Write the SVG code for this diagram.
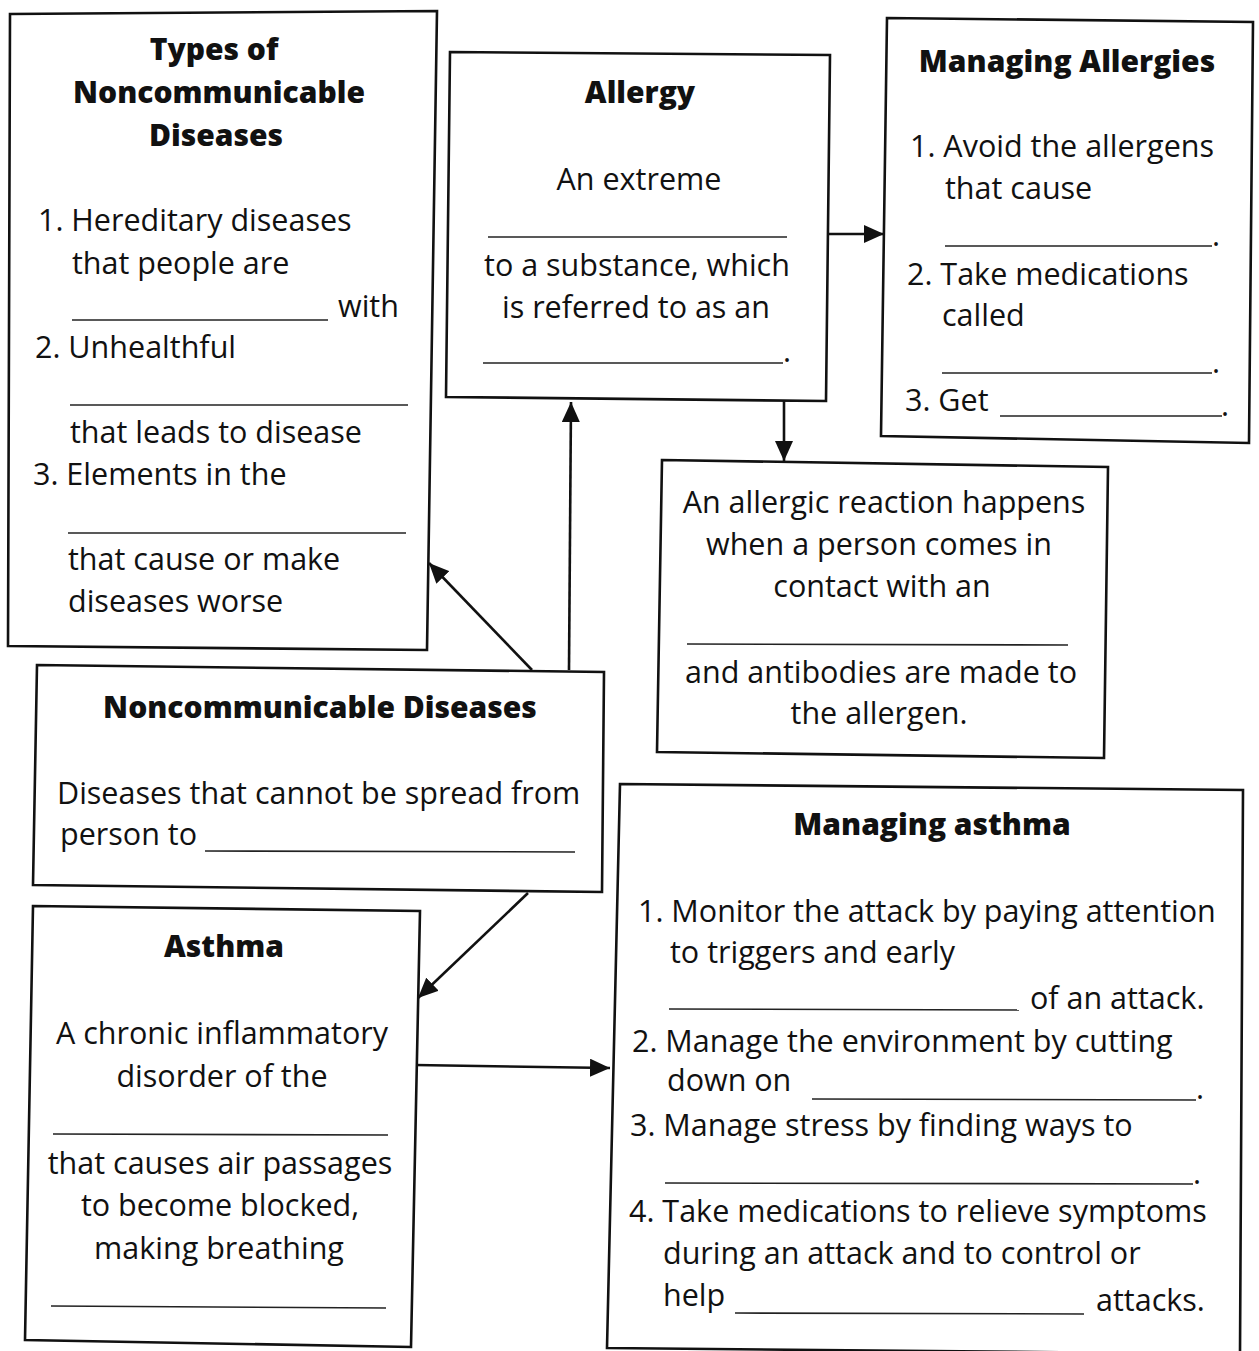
<svg xmlns="http://www.w3.org/2000/svg" width="1259" height="1351" viewBox="0 0 1259 1351">
<style>
.box{fill:#fff;stroke:#111;stroke-width:2.6;stroke-linejoin:miter}
.t{font-family:"Open Sans","Noto Sans","Liberation Sans",sans-serif;font-size:30.5px;fill:#111}
.h{font-family:"Open Sans","Noto Sans","Liberation Sans",sans-serif;font-size:30px;font-weight:800;fill:#111}
.c{text-anchor:middle}
.bl{stroke:#222;stroke-width:1.6;fill:none}
.conn{stroke:#111;stroke-width:2.6;fill:none}
</style>
<defs>
<marker id="arr" markerUnits="userSpaceOnUse" markerWidth="22" markerHeight="18" refX="20" refY="9" orient="auto">
<path d="M0,0 L20,9 L0,18 z" fill="#111"/>
</marker>
</defs>
<rect width="1259" height="1351" fill="#fff"/>

<g id="connectors">
<line class="conn" x1="826" y1="234" x2="884" y2="234" marker-end="url(#arr)"/>
<line class="conn" x1="784" y1="401" x2="784" y2="461" marker-end="url(#arr)"/>
<line class="conn" x1="569" y1="670" x2="571" y2="402" marker-end="url(#arr)"/>
<line class="conn" x1="532" y1="670" x2="429" y2="563" marker-end="url(#arr)"/>
<line class="conn" x1="528" y1="893" x2="418" y2="998" marker-end="url(#arr)"/>
<line class="conn" x1="415" y1="1065" x2="610" y2="1068" marker-end="url(#arr)"/>
</g>

<g id="types">
<polygon class="box" points="10,14 437,11 427,650 8,646"/>
<text class="h c" x="214" y="60">Types of</text>
<text class="h c" x="219" y="103">Noncommunicable</text>
<text class="h c" x="216" y="146">Diseases</text>
<text class="t" x="38" y="231">1. Hereditary diseases</text>
<text class="t" x="72" y="274">that people are</text>
<line class="bl" x1="72" y1="320" x2="328" y2="320"/>
<text class="t" x="338" y="317">with</text>
<text class="t" x="35" y="358">2. Unhealthful</text>
<line class="bl" x1="70" y1="405" x2="408" y2="405"/>
<text class="t" x="70" y="443">that leads to disease</text>
<text class="t" x="33" y="485">3. Elements in the</text>
<line class="bl" x1="68" y1="533" x2="406" y2="533"/>
<text class="t" x="68" y="570">that cause or make</text>
<text class="t" x="68" y="612">diseases worse</text>
</g>

<g id="allergy">
<polygon class="box" points="450,52 830,55 826,401 446,397"/>
<text class="h c" x="640" y="103">Allergy</text>
<text class="t c" x="639" y="190">An extreme</text>
<line class="bl" x1="488" y1="237" x2="787" y2="237"/>
<text class="t c" x="637" y="276">to a substance, which</text>
<text class="t c" x="636" y="318">is referred to as an</text>
<line class="bl" x1="483" y1="363" x2="783" y2="363"/>
<text class="t" x="783" y="362">.</text>
</g>

<g id="managing-allergies">
<polygon class="box" points="887,18 1253,22 1249,443 881,436"/>
<text class="h c" x="1067" y="72">Managing Allergies</text>
<text class="t" x="910" y="157">1. Avoid the allergens</text>
<text class="t" x="945" y="199">that cause</text>
<line class="bl" x1="945" y1="246" x2="1212" y2="246"/>
<text class="t" x="1212" y="246">.</text>
<text class="t" x="907" y="285">2. Take medications</text>
<text class="t" x="942" y="326">called</text>
<line class="bl" x1="942" y1="373" x2="1212" y2="373"/>
<text class="t" x="1212" y="373">.</text>
<text class="t" x="905" y="411">3. Get</text>
<line class="bl" x1="1000" y1="416" x2="1222" y2="416"/>
<text class="t" x="1221" y="416">.</text>
</g>

<g id="allergic-reaction">
<polygon class="box" points="662,460 1108,467 1104,758 657,752"/>
<text class="t c" x="884" y="513">An allergic reaction happens</text>
<text class="t c" x="879" y="555">when a person comes in</text>
<text class="t c" x="882" y="597">contact with an</text>
<line class="bl" x1="687" y1="644" x2="1068" y2="645"/>
<text class="t c" x="881" y="683">and antibodies are made to</text>
<text class="t c" x="879" y="724">the allergen.</text>
</g>

<g id="noncommunicable">
<polygon class="box" points="37,665 604,672 602,892 33,885"/>
<text class="h c" x="320" y="718">Noncommunicable Diseases</text>
<text class="t" x="57" y="804">Diseases that cannot be spread from</text>
<text class="t" x="60" y="845">person to</text>
<line class="bl" x1="205" y1="851" x2="575" y2="852"/>
</g>

<g id="asthma">
<polygon class="box" points="33,906 420,911 411,1347 25,1340"/>
<text class="h c" x="224" y="957">Asthma</text>
<text class="t c" x="222" y="1044">A chronic inflammatory</text>
<text class="t c" x="222" y="1087">disorder of the</text>
<line class="bl" x1="53" y1="1134" x2="388" y2="1135"/>
<text class="t c" x="220" y="1174">that causes air passages</text>
<text class="t c" x="220" y="1216">to become blocked,</text>
<text class="t c" x="219" y="1259">making breathing</text>
<line class="bl" x1="51" y1="1306" x2="386" y2="1308"/>
</g>

<g id="managing-asthma">
<polygon class="box" points="620,784 1243,790 1240,1354 607,1348"/>
<text class="h c" x="932" y="835">Managing asthma</text>
<text class="t" x="638" y="922">1. Monitor the attack by paying attention</text>
<text class="t" x="670" y="963">to triggers and early</text>
<line class="bl" x1="669" y1="1009" x2="1019" y2="1010"/>
<text class="t" x="1030" y="1009">of an attack.</text>
<text class="t" x="632" y="1052">2. Manage the environment by cutting</text>
<text class="t" x="667" y="1091">down on</text>
<line class="bl" x1="812" y1="1099" x2="1196" y2="1100"/>
<text class="t" x="1196" y="1099">.</text>
<text class="t" x="630" y="1136">3. Manage stress by finding ways to</text>
<line class="bl" x1="665" y1="1183" x2="1193" y2="1184"/>
<text class="t" x="1193" y="1184">.</text>
<text class="t" x="629" y="1222">4. Take medications to relieve symptoms</text>
<text class="t" x="663" y="1264">during an attack and to control or</text>
<text class="t" x="663" y="1306">help</text>
<line class="bl" x1="735" y1="1313" x2="1084" y2="1314"/>
<text class="t" x="1096" y="1311">attacks.</text>
</g>
</svg>
